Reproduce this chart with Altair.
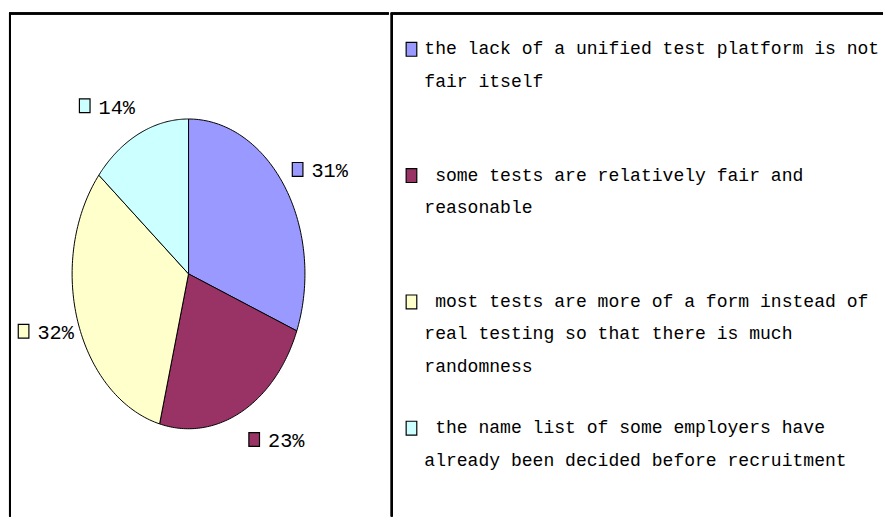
import altair as alt
import pandas as pd

# ---------------- data ----------------
categories = [
    "the lack of a unified test platform is not fair itself",
    "some tests are relatively fair and reasonable",
    "most tests are more of a form instead of real testing so that there is much randomness",
    "the name list of some employers have already been decided before recruitment",
]
legend_texts = [
    "the lack of a unified test platform is not\nfair itself",
    "\u200b\u00a0some tests are relatively fair and\nreasonable",
    "\u200b\u00a0most tests are more of a form instead of\nreal testing so that there is much\nrandomness",
    "\u200b\u00a0the name list of some employers have\nalready been decided before recruitment",
]
shares = [31, 23, 32, 14]
pct_labels = ["31%", "23%", "32%", "14%"]
colors = ["#9999FF", "#993366", "#FFFFCC", "#CCFFFF"]

# ---------------- layout ----------------
LEFT_W, RIGHT_W, H = 385, 499, 512
CX, CY, RX, RY = 182, 266, 118, 157
STEPS = 90
FONT = "Liberation Mono"
BOX = "M-0.77,-1L0.77,-1L0.77,1L-0.77,1Z"
BOX_SIZE = 196

slices = pd.DataFrame({
    "cat": categories,
    "share": shares,
    "ord": list(range(len(categories))),
    "label": pct_labels,
    "legend": legend_texts,
})
poly = slices.merge(pd.DataFrame({"k": list(range(-1, STEPS + 1))}), how="cross")

x_scale = alt.Scale(domain=[-CX / RX, (LEFT_W - CX) / RX], nice=False, zero=False)
y_scale = alt.Scale(domain=[-(H - CY) / RY, CY / RY], nice=False, zero=False)
fill_scale = alt.Scale(domain=categories, range=colors)

# pie slices as closed polygons on an elliptical (stretched) coordinate system
pie = (
    alt.Chart(poly)
    .transform_calculate(v0="datum.k == -1 ? datum.share : 0")
    .transform_window(cum="sum(v0)", sort=[alt.SortField("ord"), alt.SortField("k")], frame=[None, 0])
    .transform_joinaggregate(total="sum(v0)")
    .transform_calculate(
        ang=f"2*PI*(datum.cum - datum.share + datum.share*max(datum.k,0)/{STEPS})/datum.total"
    )
    .transform_calculate(
        px="datum.k < 0 ? 0 : sin(datum.ang)",
        py="datum.k < 0 ? 0 : cos(datum.ang)",
    )
    .mark_line(interpolate="linear-closed", stroke="black", strokeWidth=1)
    .encode(
        x=alt.X("px:Q", scale=x_scale, axis=None),
        y=alt.Y("py:Q", scale=y_scale, axis=None),
        fill=alt.Fill("cat:N", scale=fill_scale, legend=None),
        detail="cat:N",
        order="k:Q",
    )
)

lab_base = (
    alt.Chart(slices)
    .transform_window(cum="sum(share)", sort=[alt.SortField("ord")], frame=[None, 0])
    .transform_joinaggregate(total="sum(share)")
    .transform_calculate(mid="2*PI*(datum.cum - datum.share/2)/datum.total")
    .transform_calculate(
        lx="sin(datum.mid) + (sin(datum.mid) >= 0 ? 1 : -1)*0.288",
        ly="1.2*cos(datum.mid)",
    )
    .encode(
        x=alt.X("lx:Q", scale=x_scale, axis=None),
        y=alt.Y("ly:Q", scale=y_scale, axis=None),
    )
)
lab_marker = lab_base.mark_point(
    shape=BOX, size=BOX_SIZE, filled=True, stroke="black", strokeWidth=1.2, opacity=1, xOffset=-21
).encode(fill=alt.Fill("cat:N", scale=fill_scale, legend=None))
lab_text = lab_base.mark_text(
    align="left", baseline="middle", dx=-7, dy=2, font=FONT, fontSize=20.5, color="black"
).encode(text="label:N")

rule_top_l = alt.Chart(slices).mark_rule(color="black", strokeWidth=2).encode(
    x=alt.value(0), x2=alt.value(LEFT_W), y=alt.value(2)
)
rule_left = alt.Chart(slices).mark_rule(color="black", strokeWidth=2).encode(
    x=alt.value(1), y=alt.value(2), y2=alt.value(H)
)

left = alt.layer(rule_top_l, rule_left, pie, lab_marker, lab_text).properties(
    width=LEFT_W, height=H
)

# ---------------- legend panel ----------------
y_leg = alt.Y("ord:O", scale=alt.Scale(type="point", padding=0.5, align=0.3), axis=None)
leg_marker = alt.Chart(slices).mark_point(
    shape=BOX, size=BOX_SIZE, filled=True, stroke="black", strokeWidth=1.2, opacity=1
).encode(
    x=alt.value(21),
    y=y_leg,
    fill=alt.Fill("cat:N", scale=fill_scale, legend=None),
)
leg_text = alt.Chart(slices).mark_text(
    align="left", baseline="alphabetic", lineBreak="\n", lineHeight=33, dy=5,
    font=FONT, fontSize=18.3, color="black"
).encode(x=alt.value(34), y=y_leg, text="legend:N")

rule_top_r = alt.Chart(slices).mark_rule(color="black", strokeWidth=2).encode(
    x=alt.value(0), x2=alt.value(RIGHT_W), y=alt.value(2)
)
rule_div = alt.Chart(slices).mark_rule(color="black", strokeWidth=2).encode(
    x=alt.value(1), y=alt.value(2), y2=alt.value(H)
)

right = alt.layer(rule_top_r, rule_div, leg_marker, leg_text).properties(
    width=RIGHT_W, height=H
)

chart = (
    alt.hconcat(left, right, spacing=0)
    .resolve_scale(fill="shared")
    .properties(padding=0)
    .configure_view(stroke=None)
)

chart.save("out.html", embed_options={"renderer": "svg", "actions": False})
